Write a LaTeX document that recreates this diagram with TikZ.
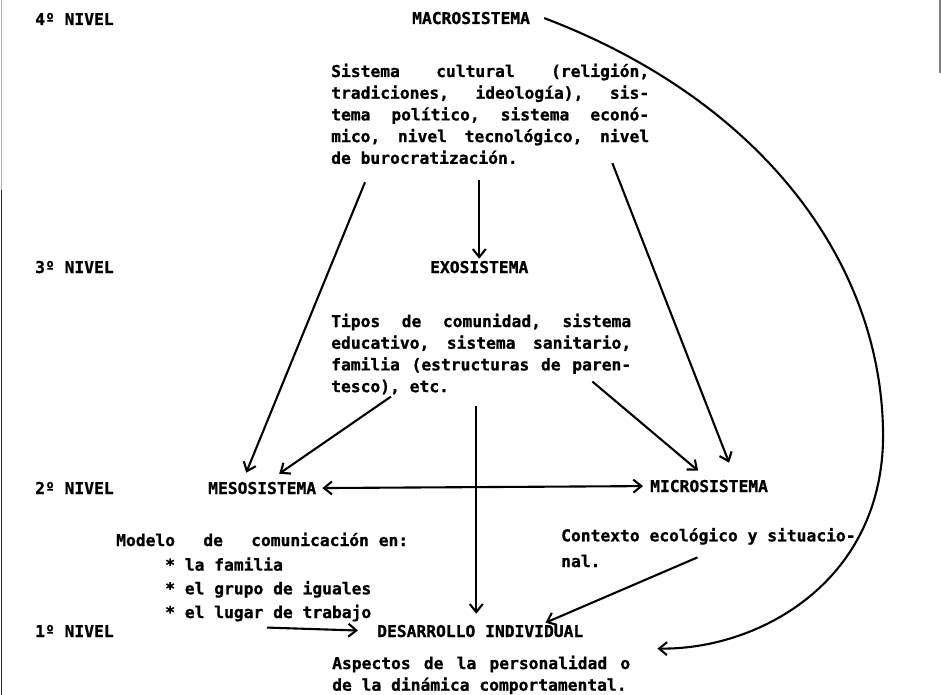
\documentclass[tikz,border=0pt]{standalone}
\usepackage{fontspec}
\setmonofont{DejaVu Sans Mono}[BoldFont={DejaVu Sans Mono Bold}, BoldFeatures={FakeBold=1}]
\usetikzlibrary{arrows.meta}
\newcommand\maquina{\ttfamily\bfseries\fontsize{16.3}{21.7}\selectfont\frenchspacing\spaceskip=0.602em plus 3em\relax}

\begin{document}
\begin{tikzpicture}[x=1pt, y=-1pt,
  every node/.style={font=\maquina, inner sep=2pt, anchor=base west},
  bloque/.style={text width=#1, align=justify},
  punta/.tip={Straight Barb[length=8pt,width=13pt]},
  flecha/.style={line width=2.1pt, -punta},
  scan/.style={line width=1.2pt}]
\useasboundingbox (0,0) rectangle (941,695);
\draw[scan, gray!60] (1.5,0) -- (1.5,190);
\draw[scan, black!85] (1.5,190) -- (1.5,695);
\draw[scan, gray] (940,0) -- (940,73);

\node (n4) at (33,25) {4º NIVEL};
\node (n3) at (33,273) {3º NIVEL};
\node (n2) at (33,494) {2º NIVEL};
\node (n1) at (33,637) {1º NIVEL};

\node (macro) at (410,24) {MACROSISTEMA};
\node[bloque=318pt] (macrotxt) at (329,77) {Sistema cultural (religión,\linebreak
  tradiciones, ideología), sis-\linebreak tema político, sistema econó-\linebreak
  mico, nivel tecnológico, nivel\linebreak de burocratización.};
\node (exo) at (428,273) {EXOSISTEMA};
\node[bloque=300pt] (exotxt) at (329,327) {Tipos de comunidad, sistema\linebreak
  educativo, sistema sanitario,\linebreak familia (estructuras de paren-\linebreak
  tesco), etc.};
\node (meso) at (206,494) {MESOSISTEMA};
\node (micro) at (648,492) {MICROSISTEMA};
\node (modelo) at (114,546) {\makebox[292pt][l]{Modelo\hfill de\hfill comunicación en:}};
\node[align=left] (iguales) at (163,618) {* la familia\\[2pt]* el grupo de iguales\\[2pt]* el lugar de trabajo};
\node[align=left] (contexto) at (559,567) {Contexto ecológico y situacio-\\[4pt]nal.};
\node (desarrollo) at (375,637) {DESARROLLO INDIVIDUAL};
\node[bloque=298pt] (aspectos) at (330,669) {Aspectos de la personalidad o\linebreak
  de la dinámica comportamental.};

\draw[flecha] ([xshift=12pt]macro.east) .. controls (760,100) and (880,260) .. (883,430)
  .. controls (886,580) and (760,650) .. ([xshift=25pt,yshift=5pt]aspectos.north east);
\draw[flecha] ([xshift=36pt,yshift=-16pt]macrotxt.south west) -- ([xshift=-16pt,yshift=7pt]meso.north);
\draw[flecha, shorten <=14pt] (exo.north |- macrotxt.south) -- (exo.north);
\draw[flecha] ([xshift=-39pt,yshift=3pt]macrotxt.south east) -- ([xshift=20pt,yshift=15pt]micro.north);
\draw[flecha] ([xshift=62pt]exotxt.south west) -- ([xshift=17pt,yshift=6pt]meso.north);
\draw[flecha] ([xshift=-41pt,yshift=15pt]exotxt.south east) -- ([xshift=-11pt,yshift=7pt]micro.north);
\draw[flecha, punta-punta, shorten <=4pt, shorten >=5pt] (meso.east) -- (micro.west);
\draw[flecha, shorten <=9pt, shorten >=9pt] ([xshift=-4pt]desarrollo.north |- exotxt.south) -- ([xshift=-4pt]desarrollo.north);
\draw[flecha] ([xshift=-11pt,yshift=12pt]contexto.south) -- ([xshift=-40pt]desarrollo.north east);
\draw[flecha, shorten >=17pt] ([xshift=104pt,yshift=-4pt]iguales.south west) -- (desarrollo.west);
\end{tikzpicture}
\end{document}
